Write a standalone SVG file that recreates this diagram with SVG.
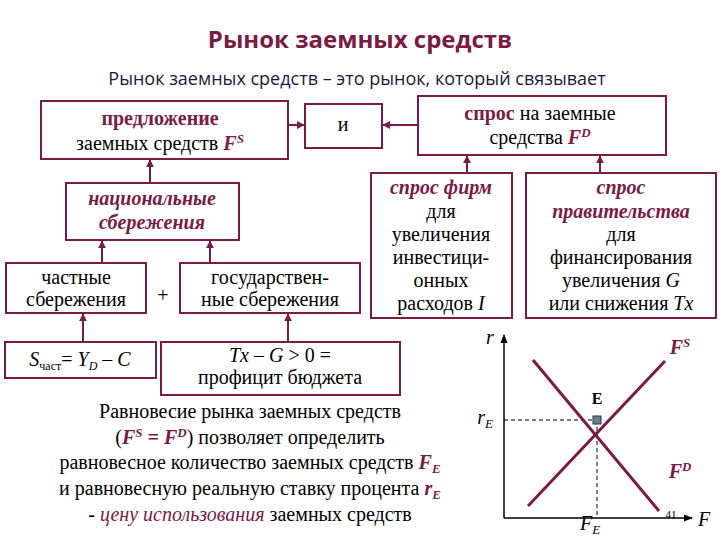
<svg xmlns="http://www.w3.org/2000/svg" width="720" height="540" viewBox="0 0 720 540" font-family="Liberation Serif, Times New Roman, serif">
<style>
.b{fill:#fff;stroke:#7b1a45;stroke-width:2}
.t{font-size:20px;fill:#000;text-anchor:middle}
.m{fill:#7b1a45;font-weight:bold}
.i{font-style:italic}
.c{stroke:#7b1a45;stroke-width:2;fill:none}
.d{stroke:#000;stroke-width:1;stroke-dasharray:4 3;fill:none}
</style>
<defs>
<marker id="a" viewBox="0 0 10 10" refX="9" refY="5" markerWidth="4" markerHeight="4" orient="auto"><path d="M0,0L10,5L0,10z" fill="#7b1a45"/></marker>
<marker id="k" viewBox="0 0 10 10" refX="9" refY="5" markerWidth="6" markerHeight="6" orient="auto"><path d="M0,1L10,5L0,9z" fill="#000"/></marker>
</defs>
<rect width="720" height="540" fill="#fff"/>
<text x="360" y="48" text-anchor="middle" style="font-family:'Open Sans',sans-serif;font-size:24px;font-weight:bold;fill:#7b1a45">Рынок заемных средств</text>
<text x="357" y="85" text-anchor="middle" style="font-family:'Open Sans',sans-serif;font-size:18px;fill:#1a1a40">Рынок  заемных средств – это рынок, который связывает</text>
<g id="connectors">
<line class="c" x1="288" y1="125" x2="304" y2="125" marker-end="url(#a)"/>
<line class="c" x1="418" y1="125" x2="383" y2="125" marker-end="url(#a)"/>
<line class="c" x1="150" y1="183" x2="150" y2="160" marker-end="url(#a)"/>
<line class="c" x1="102" y1="263" x2="102" y2="241" marker-end="url(#a)"/>
<line class="c" x1="210" y1="263" x2="210" y2="241" marker-end="url(#a)"/>
<line class="c" x1="467" y1="173" x2="467" y2="156" marker-end="url(#a)"/>
<line class="c" x1="600" y1="173" x2="600" y2="156" marker-end="url(#a)"/>
<line class="c" x1="83" y1="342" x2="83" y2="314" marker-end="url(#a)"/>
<line class="c" x1="288" y1="342" x2="288" y2="314" marker-end="url(#a)"/>
</g>
<g id="supply"><rect class="b" x="41" y="101" width="247" height="58"/>
<text class="t m" x="160" y="125">предложение</text>
<text class="t" x="160" y="150">заемных средств <tspan class="m i">F<tspan font-size="13" dy="-7">S</tspan></tspan></text></g>
<g id="and"><rect class="b" x="305" y="104" width="77" height="44"/><text class="t" x="343" y="131">и</text></g>
<g id="demand"><rect class="b" x="418" y="96" width="248" height="59"/>
<text class="t" x="540" y="120"><tspan class="m">спрос</tspan>  на заемные</text>
<text class="t" x="540" y="144">средства  <tspan class="m i">F<tspan font-size="13" dy="-7">D</tspan></tspan></text></g>
<g id="national"><rect class="b" x="66" y="183" width="173" height="57"/>
<text class="t m i" x="152" y="205">национальные</text><text class="t m i" x="152" y="229">сбережения</text></g>
<g id="private"><rect class="b" x="6" y="263" width="140" height="50"/>
<text class="t" x="76" y="284">частные</text><text class="t" x="76" y="306">сбережения</text></g>
<text class="t" x="163" y="302">+</text>
<g id="gov"><rect class="b" x="180" y="263" width="180" height="50"/>
<text class="t" x="270" y="284">государствен-</text><text class="t" x="270" y="306">ные сбережения</text></g>
<g id="firms"><rect class="b" x="371" y="173" width="141" height="145"/>
<text class="t m i" x="441" y="194">спрос фирм</text>
<text class="t" x="441" y="218">для</text><text class="t" x="441" y="241">увеличения</text>
<text class="t" x="441" y="264">инвестици-</text><text class="t" x="441" y="287">онных</text>
<text class="t" x="441" y="310">расходов <tspan class="i">I</tspan></text></g>
<g id="govdem"><rect class="b" x="526" y="173" width="190" height="145"/>
<text class="t m i" x="621" y="194">спрос</text>
<text class="t m i" x="621" y="218">правительства</text>
<text class="t" x="621" y="241">для</text><text class="t" x="621" y="264">финансирования</text>
<text class="t" x="621" y="287">увеличения <tspan class="i">G</tspan></text>
<text class="t" x="621" y="310">или снижения <tspan class="i">Tx</tspan></text></g>
<g id="sformula"><rect class="b" x="5" y="342" width="151" height="36"/>
<text class="t" x="80" y="366"><tspan class="i">S</tspan><tspan font-size="12" dy="4">част</tspan><tspan dy="-4">= </tspan><tspan class="i">Y</tspan><tspan class="i" font-size="12" dy="4">D</tspan><tspan dy="-4"> – </tspan><tspan class="i">C</tspan></text></g>
<g id="tx"><rect class="b" x="161" y="342" width="239" height="53"/>
<text class="t" x="280" y="362"><tspan class="i">Tx – G</tspan> &gt; 0 =</text>
<text class="t" x="280" y="384">профицит бюджета</text></g>
<g id="text">
<text class="t" x="250" y="418">Равновесие рынка заемных средств</text>
<text class="t" x="250" y="444">(<tspan class="m i">F<tspan font-size="13" dy="-7">S</tspan><tspan dy="7"> = F</tspan><tspan font-size="13" dy="-7">D</tspan></tspan><tspan dy="7">) позволяет определить</tspan></text>
<text class="t" x="250" y="469">равновесное количество заемных средств <tspan class="m i">F<tspan font-size="13" dy="4">E</tspan></tspan></text>
<text class="t" x="250" y="495">и равновесную реальную ставку процента <tspan class="m i">r<tspan font-size="13" dy="4">E</tspan></tspan></text>
<text class="t" x="250" y="521">- <tspan class="i" fill="#7b1a45">цену использования</tspan> заемных средств</text>
</g>
<g id="graph">
<line x1="504" y1="518" x2="504" y2="335" stroke="#000" stroke-width="1.5" marker-end="url(#k)"/>
<line x1="504" y1="518" x2="692" y2="518" stroke="#000" stroke-width="1.5" marker-end="url(#k)"/>
<line class="d" x1="504" y1="420" x2="597" y2="420"/>
<line class="d" x1="597" y1="420" x2="597" y2="518"/>
<line x1="528" y1="506" x2="665" y2="361" stroke="#7b1a45" stroke-width="3"/>
<line x1="533" y1="360" x2="659" y2="511" stroke="#7b1a45" stroke-width="3"/>
<rect x="593" y="416" width="8" height="8" fill="#6a8090" stroke="#333"/>
<text class="t i" x="490" y="344">r</text>
<text class="t i" x="485" y="424">r<tspan font-size="13" dy="4">E</tspan></text>
<text class="t" x="597" y="404" style="font-weight:bold;font-size:16px">E</text>
<text class="t m i" x="680" y="354">F<tspan font-size="13" dy="-7">S</tspan></text>
<text class="t m i" x="680" y="478">F<tspan font-size="13" dy="-7">D</tspan></text>
<text class="t i" x="590" y="530">F<tspan font-size="13" dy="4">E</tspan></text>
<text class="t i" x="704" y="526">F</text>
<text class="t" x="671" y="518" style="font-size:11px">41</text>
</g>
</svg>
